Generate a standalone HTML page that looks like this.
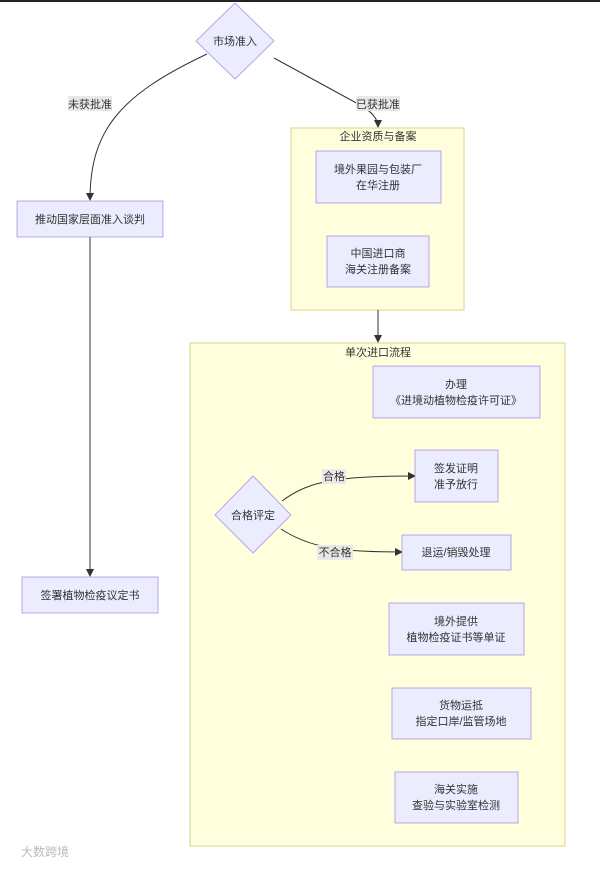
<!DOCTYPE html>
<html><head><meta charset="utf-8"><style>
body{margin:0;width:600px;height:864px;background:#fff;overflow:hidden;font-family:"Liberation Sans","Noto Sans CJK SC",sans-serif;}
svg text{font-family:"Liberation Sans","Noto Sans CJK SC",sans-serif;font-size:11px;fill:#333;text-anchor:middle;}
</style></head><body>
<svg width="600" height="864" viewBox="0 0 600 864">
<defs><marker id="a" markerWidth="8" markerHeight="8" refX="7" refY="4" orient="auto" markerUnits="userSpaceOnUse"><path d="M0,0L8,4L0,8z" fill="#333"/></marker></defs>
<rect x="0" y="0" width="600" height="2" fill="#222"/>
<rect x="291" y="128" width="173" height="182" fill="#ffffde" stroke="#d6d68a"/>
<text x="378" y="140">企业资质与备案</text>
<rect x="190" y="343" width="375" height="503" fill="#ffffde" stroke="#d6d68a"/>
<text x="378" y="356">单次进口流程</text>
<g fill="none" stroke="#333" stroke-width="1">
<path d="M207,54 C120,95 90,130 90,200" marker-end="url(#a)"/>
<path d="M274,58 L360,105 Q378,115 378,127" marker-end="url(#a)"/>
<path d="M378,310 L378,342" marker-end="url(#a)"/>
<path d="M90,237 L90,576" marker-end="url(#a)"/>
<path d="M282,501 C310,480 340,476 415,476" marker-end="url(#a)"/>
<path d="M281,529 C310,548 340,552 402,552" marker-end="url(#a)"/>
</g>
<rect x="68" y="96" width="44" height="15" fill="#e8e8e8"/><text x="90" y="108">未获批准</text>
<rect x="356" y="96" width="44" height="15" fill="#e8e8e8"/><text x="378" y="108">已获批准</text>
<rect x="322" y="469" width="24" height="15" fill="#e8e8e8"/><text x="334" y="480">合格</text>
<rect x="317" y="545" width="36" height="15" fill="#e8e8e8"/><text x="335" y="556">不合格</text>
<g fill="#ececff" stroke="#9370db" stroke-opacity="0.6">
<path d="M235,3 L274,41 L235,79 L196,41z"/>
<path d="M253,476 L291,515 L253,553 L215,515z"/>
<rect x="17" y="201" width="146" height="36"/>
<rect x="22" y="577" width="136" height="36"/>
<rect x="316" y="151" width="125" height="52"/>
<rect x="327" y="236" width="102" height="51"/>
<rect x="373" y="366" width="167" height="52"/>
<rect x="415" y="450" width="83" height="52"/>
<rect x="402" y="535" width="109" height="35"/>
<rect x="389" y="603" width="135" height="52"/>
<rect x="392" y="688" width="139" height="51"/>
<rect x="395" y="772" width="123" height="51"/>
</g>
<text x="235" y="45">市场准入</text>
<text x="253" y="519">合格评定</text>
<text x="90" y="223">推动国家层面准入谈判</text>
<text x="90" y="599">签署植物检疫议定书</text>
<text x="378" y="173">境外果园与包装厂</text><text x="378" y="189">在华注册</text>
<text x="378" y="257">中国进口商</text><text x="378" y="273">海关注册备案</text>
<text x="456" y="388">办理</text><text x="456" y="404">《进境动植物检疫许可证》</text>
<text x="456" y="472">签发证明</text><text x="456" y="488">准予放行</text>
<text x="456" y="556">退运/销毁处理</text>
<text x="456" y="625">境外提供</text><text x="456" y="641">植物检疫证书等单证</text>
<text x="461" y="709">货物运抵</text><text x="461" y="725">指定口岸/监管场地</text>
<text x="456" y="793">海关实施</text><text x="456" y="809">查验与实验室检测</text>
<text x="45" y="856" style="fill:#bbb;font-size:12px">大数跨境</text>
</svg>
</body></html>
